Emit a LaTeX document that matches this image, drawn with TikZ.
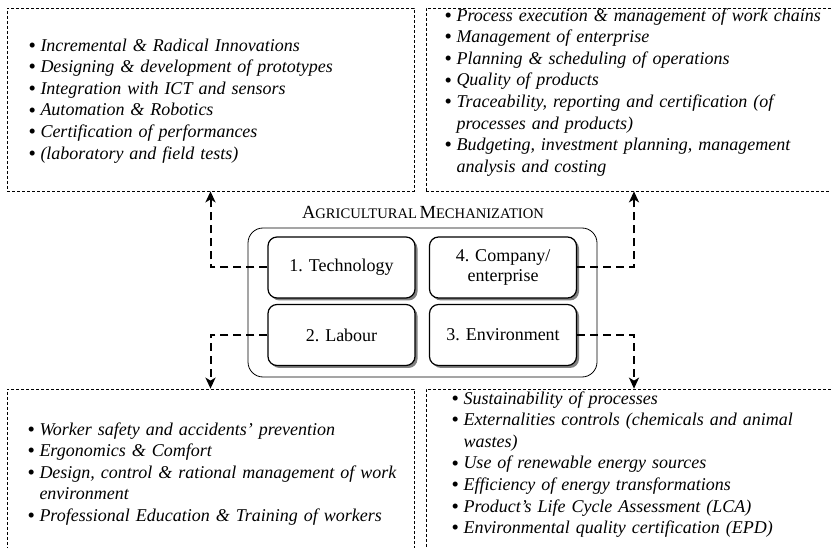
\documentclass[tikz,border=0pt]{standalone}
\usepackage{fontspec}
\setmainfont{Liberation Serif}
\usetikzlibrary{arrows.meta, shadows}

% one bullet line of a list, hanging indent for the wrapped part
\newcommand{\listitem}[1]{\par\noindent\hangindent=12pt\hangafter=1\makebox[12pt][l]{\upshape\raisebox{-1.2pt}{\fontsize{21}{21}\selectfont\textbullet}}#1\par}
% fake small caps: large first letter, smaller rest
\newcommand{\capword}[2]{{\fontsize{18.5}{22}\selectfont #1}{\fontsize{14.6}{16}\selectfont #2}}

\begin{document}
\begin{tikzpicture}[x=1pt, y=-1pt, line width=1pt,
    areabox/.style={draw, dash pattern=on 3pt off 2pt, line width=0.7pt, minimum width=407pt, minimum height=183pt, inner sep=0pt},
    itemlist/.style={anchor=north west, inner sep=0pt, text width=400pt, align=left, font=\fontsize{18}{21.6}\selectfont\itshape},
    block/.style={draw, rounded corners=9pt, line width=1.2pt, fill=white, minimum width=147pt, minimum height=61pt, align=center, font=\fontsize{18}{20}\selectfont, drop shadow={shadow xshift=2.5pt, shadow yshift=-2.5pt, fill=black!50, opacity=1}},
    link/.style={line width=2pt, dash pattern=on 8pt off 5pt, -{Stealth[length=11pt, width=10pt, inset=3pt]}}]

    \useasboundingbox (0, 0) rectangle (831, 548);

    % draw dashed areas round the lists
    \node[areabox] (techarea) at (210.5, 99.5) {};
    \node[areabox, minimum width=416pt] (comparea) at (634, 99.5) {};
    \node[areabox] (labourarea) at (210.5, 480.5) {};
    \node[areabox, minimum width=416pt] (envarea) at (634, 480.5) {};

    % draw lists
    \node[itemlist] (techlist) at (28, 29) {
        \listitem{Incremental \& Radical Innovations}
        \listitem{Designing \& development of prototypes}
        \listitem{Integration with ICT and sensors}
        \listitem{Automation \& Robotics}
        \listitem{Certification of performances}
        \listitem{(laboratory and field tests)}};
    \node[itemlist] (complist) at (444, -1) {
        \listitem{Process execution \& management of work chains}
        \listitem{Management of enterprise}
        \listitem{Planning \& scheduling of operations}
        \listitem{Quality of products}
        \listitem{Traceability, reporting and certification (of\newline processes and products)}
        \listitem{Budgeting, investment planning, management\newline analysis and costing}};
    \node[itemlist] (labourlist) at (27, 413) {
        \listitem{Worker safety and accidents' prevention}
        \listitem{Ergonomics \& Comfort}
        \listitem{Design, control \& rational management of work\newline environment}
        \listitem{Professional Education \& Training of workers}};
    \node[itemlist] (envlist) at (451, 382) {
        \listitem{Sustainability of processes}
        \listitem{Externalities controls (chemicals and animal\newline wastes)}
        \listitem{Use of renewable energy sources}
        \listitem{Efficiency of energy transformations}
        \listitem{Product's Life Cycle Assessment (LCA)}
        \listitem{Environmental quality certification (EPD)}};

    % draw central frame and title
    \node (title) at (423, 212) {\capword{A}{GRICULTURAL} \capword{M}{ECHANIZATION}};
    \node[draw, rounded corners=15pt, line width=0.8pt, minimum width=349pt, minimum height=149pt] (mech) at (422.5, 302.5) {};

    % draw the four blocks
    \node[block] (tech) at (341.5, 267.5) {1. Technology};
    \node[block] (comp) at (503, 267.5) {4. Company/\\enterprise};
    \node[block] (labour) at (341.5, 335) {2. Labour};
    \node[block] (env) at (503, 335) {3. Environment};

    % draw dashed links
    \draw[link] (tech.west) -| (techarea.south);
    \draw[link] (comp.east) -| (comparea.south);
    \draw[link] (labour.west) -| (labourarea.north);
    \draw[link] (env.east) -| (envarea.north);

\end{tikzpicture}
\end{document}
